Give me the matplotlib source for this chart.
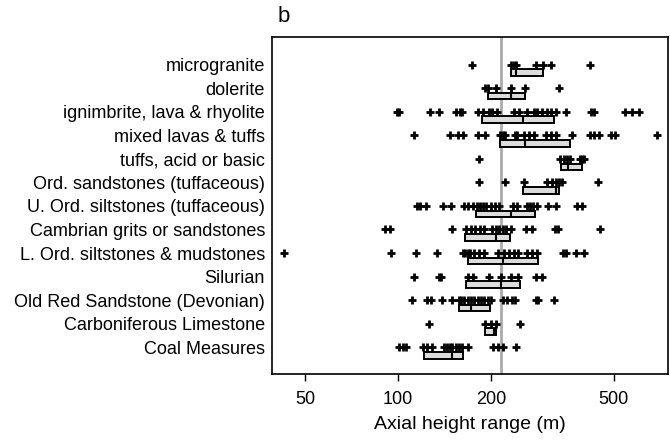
import matplotlib.pyplot as plt
import matplotlib.ticker as mticker
import numpy as np

plt.rcParams['font.family'] = ['Liberation Sans', 'DejaVu Sans']

categories = [
    "microgranite",
    "dolerite",
    "ignimbrite, lava & rhyolite",
    "mixed lavas & tuffs",
    "tuffs, acid or basic",
    "Ord. sandstones (tuffaceous)",
    "U. Ord. siltstones (tuffaceous)",
    "Cambrian grits or sandstones",
    "L. Ord. siltstones & mudstones",
    "Silurian",
    "Old Red Sandstone (Devonian)",
    "Carboniferous Limestone",
    "Coal Measures",
]

# individual axial height ranges (m)
microgranite = [173, 233, 237, 242, 280, 295, 313, 420]
dolerite = [192, 196, 207, 233, 257, 332]
ignimbrite = [99, 101, 127, 136, 154, 159, 161, 181, 188, 197, 202, 210, 237, 246,
              262, 275, 282, 293, 303, 312, 326, 351, 422, 433, 545, 573, 602]
mixed = [113, 147, 156, 162, 181, 191, 214, 218, 222, 239, 243, 256, 265, 275,
         301, 313, 326, 367, 418, 431, 447, 490, 506, 690]
tuffs = [183, 336, 345, 353, 362, 388, 395, 402]
ord_sand = [183, 222, 256, 303, 316, 326, 333, 340, 444]
u_ord = [115, 118, 123, 140, 148, 163, 168, 175, 180, 184, 188, 193, 200, 206,
         212, 236, 243, 261, 267, 274, 281, 306, 324, 380, 395]
cambrian = [91, 94, 150, 166, 172, 177, 184, 190, 201, 207, 212, 218, 224, 232,
            259, 272, 322, 330, 450]
l_ord = [42.7, 95, 114, 134, 162, 165, 168, 171, 176, 183, 190, 211, 220, 229,
         238, 245, 262, 272, 282, 343, 351, 378, 402]
silurian = [113, 136, 138, 168, 175, 197, 216, 233, 245, 280, 292]
old_red = [111, 124, 128, 139, 150, 157, 160, 164, 168, 172, 176, 181, 185, 190,
           195, 200, 219, 226, 234, 240, 279, 284, 320]
carb_lst = [126, 192, 200, 207, 248]
coal = [101, 104, 106, 120, 124, 128.5, 141, 144, 147, 150, 154, 157, 161, 168,
        203, 211, 218, 241.5]

points = [microgranite, dolerite, ignimbrite, mixed, tuffs, ord_sand, u_ord,
          cambrian, l_ord, silurian, old_red, carb_lst, coal]

# box statistics (lower quartile, median, upper quartile)
q1 = [233, 195, 187, 214, 338, 254, 179, 165, 168, 166, 157, 192, 121]
med = [242, 232, 254, 257, 356, 324, 232, 207, 218, 216, 172, 204, 149]
q3 = [295, 257, 321, 362, 395, 332, 278, 231, 284, 249, 198, 208, 162]

ref_line = 215

fig = plt.figure(figsize=(6.7, 4.44), dpi=100)
ax = fig.add_axes((0.406, 0.158, 0.591, 0.759))

n = len(categories)
ypos = np.arange(n)[::-1]

for y, vals in zip(ypos, points):
    ax.scatter(vals, np.full(len(vals), y), marker='+', s=32, linewidths=2.0,
               color='black', zorder=3)

stats = [dict(q1=a, med=m, q3=b, whislo=a, whishi=b, fliers=[])
         for a, m, b in zip(q1, med, q3)]
ax.bxp(stats, positions=ypos - 0.34, widths=0.28, orientation='horizontal',
       patch_artist=True, showcaps=False, manage_ticks=False,
       boxprops=dict(facecolor='#dcdcdc', edgecolor='black', linewidth=1.4),
       medianprops=dict(color='black', linewidth=1.5),
       whiskerprops=dict(linewidth=0))

ax.axvline(ref_line, color='#aaaaaa', linewidth=2, zorder=1)

ax.set_xscale('log')
ax.set_xlim(39, 750)
ax.set_ylim(-1.13, n - 1 + 1.18)
ax.xaxis.set_major_locator(mticker.FixedLocator([50, 100, 200, 500]))
ax.xaxis.set_major_formatter(mticker.FixedFormatter(['50', '100', '200', '500']))
ax.xaxis.set_minor_locator(mticker.NullLocator())

ax.set_yticks(ypos)
ax.set_yticklabels(categories)
ax.tick_params(axis='y', length=0, pad=5, labelsize=13)
ax.tick_params(axis='x', length=5, width=1, pad=7, labelsize=13)
for s in ax.spines.values():
    s.set_linewidth(1.2)

ax.set_xlabel("Axial height range (m)", fontsize=14, labelpad=6)
fig.text(0.414, 0.962, "b", fontsize=16, va='center', ha='left')

fig.savefig("out.png", dpi=100)
